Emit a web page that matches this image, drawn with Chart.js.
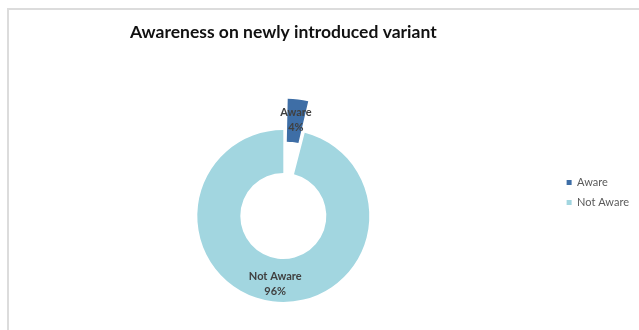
<!DOCTYPE html>
<html>
<head>
<meta charset="utf-8">
<script src="https://cdn.jsdelivr.net/npm/chart.js@4.4.0/dist/chart.umd.min.js"></script>
<style>
  html, body { margin: 0; padding: 0; background: #fff; }
  #wrap { position: relative; width: 639px; height: 330px; overflow: hidden; }
  #frame { position: absolute; left: 7px; top: 8px; width: 700px; height: 400px; border: 2px solid #dcdcdc; }
  canvas { position: absolute; left: 0; top: 0; }
</style>
</head>
<body>
<div id="wrap">
  <div id="frame"></div>
  <canvas id="myChart" width="639" height="330"></canvas>
</div>
<script>
const categories = ['Aware', 'Not Aware'];
const percentages = [4, 96];
const sliceColors = ['#3e6ea6', '#a2d6e0'];
const sliceOffsets = [72, 0]; // chart.js moves an arc out by half its offset

// writes "name / value%" on each slice, following the slice when it is pulled out
const sliceLabels = {
  id: 'sliceLabels',
  afterDatasetsDraw(chart) {
    const ctx = chart.ctx;
    const meta = chart.getDatasetMeta(0);
    ctx.save();
    ctx.font = 'bold 11px Lato';
    ctx.fillStyle = '#404040';
    ctx.textAlign = 'center';
    ctx.textBaseline = 'middle';
    meta.data.forEach((arc, i) => {
      const p = arc.getProps(['x', 'y', 'startAngle', 'endAngle', 'innerRadius', 'outerRadius']);
      const mid = (p.startAngle + p.endAngle) / 2;
      const r = (p.innerRadius + p.outerRadius) / 2 + sliceOffsets[i] / 2;
      const x = p.x + Math.cos(mid) * r;
      const y = p.y + Math.sin(mid) * r + 3;
      ctx.fillText(categories[i], x, y - 7);
      ctx.fillText(percentages[i] + '%', x, y + 8);
    });
    ctx.restore();
  }
};

const ctx = document.getElementById('myChart').getContext('2d');
const myChart = new Chart(ctx, {
  type: 'doughnut',
  data: {
    labels: categories,
    datasets: [{
      data: percentages,
      backgroundColor: sliceColors,
      offset: sliceOffsets,
      borderWidth: 0,
      clip: false
    }]
  },
  options: {
    responsive: false,
    animation: false,
    radius: 86,
    cutout: '50%',
    layout: {
      padding: { left: 9, right: 0, top: 0, bottom: 66 }
    },
    plugins: {
      title: {
        display: true,
        text: 'Awareness on newly introduced variant',
        fullSize: false,
        color: '#111',
        font: { family: 'Lato', size: 17.5, weight: 'bold' },
        padding: { top: 22, bottom: 125 }
      },
      legend: {
        position: 'right',
        align: 'start',
        fullSize: false,
        labels: {
          boxWidth: 5,
          boxHeight: 5,
          padding: 9,
          color: '#595959',
          font: { family: 'Lato', size: 11 }
        }
      },
      tooltip: { enabled: false }
    }
  },
  plugins: [sliceLabels]
});
</script>
</body>
</html>
